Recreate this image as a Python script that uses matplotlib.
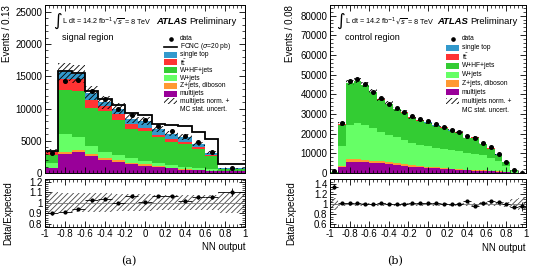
import numpy as np
import matplotlib
matplotlib.use("Agg")
import matplotlib.pyplot as plt
from matplotlib.patches import Rectangle
from matplotlib.lines import Line2D
from matplotlib.ticker import MultipleLocator, FixedLocator, FuncFormatter

plt.rcParams['font.family'] = ['Liberation Sans', 'DejaVu Sans']
plt.rcParams['axes.unicode_minus'] = False
plt.rcParams['hatch.linewidth'] = 0.6

# ---------------- data: signal region (a) ----------------
sig_edges = [-1.0, -0.8667, -0.7333, -0.6, -0.4667, -0.3333, -0.2, -0.0667,
             0.0667, 0.2, 0.3333, 0.4667, 0.6, 0.7333, 1.0]
sig_multijets = [720, 3000, 3250, 2650, 2000, 1700, 1380, 1150, 930, 700, 520, 400, 300, 250]
sig_zjets     = [80, 280, 280, 260, 250, 250, 220, 200, 180, 150, 120, 100, 80, 30]
sig_wjets     = [700, 2800, 2000, 1300, 1050, 800, 650, 550, 450, 380, 300, 250, 180, 60]
sig_whf       = [1300, 6760, 7250, 5940, 6330, 5430, 4610, 4670, 3980, 3640, 3510, 2980, 2000, 230]
sig_ttbar     = [400, 1800, 1750, 1130, 720, 1000, 680, 360, 360, 410, 310, 360, 280, 60]
sig_singletop = [190, 1070, 790, 1100, 610, 820, 900, 1170, 910, 820, 820, 430, 300, 80]
sig_fcnc      = [30, 100, 200, 400, 500, 600, 850, 900, 800, 1300, 1700, 1800, 2100, 750]
sig_data      = [3050, 14300, 14400, 12750, 11400, 10000, 8950, 8180, 7250, 6470, 5690, 4750, 3300, 780]
sig_unc       = [0.10, 0.09, 0.09, 0.09, 0.09, 0.08, 0.08, 0.08, 0.07, 0.07, 0.07, 0.07, 0.07, 0.10]

# ---------------- data: control region (b) ----------------
ctl_edges = list(np.round(np.linspace(-1, 1, 26), 4))
ctl_multijets = [150, 3000, 5800, 5800, 5400, 5200, 4900, 4500, 4100, 3700, 3300, 3000, 2600,
                 2300, 2000, 1800, 1500, 1350, 1200, 1050, 900, 700, 450, 150, 15]
ctl_zjets     = [30, 600, 1160, 1160, 1100, 1000, 950, 900, 850, 800, 700, 600, 550,
                 500, 450, 400, 380, 350, 300, 250, 200, 180, 120, 40, 5]
ctl_wjets     = [70, 10150, 17490, 18340, 17950, 16550, 15200, 13950, 13550, 12300, 11100, 10600, 10350,
                 10100, 9850, 9500, 9120, 8600, 8300, 7600, 6700, 5320, 3030, 710, 40]
ctl_whf       = [340, 10850, 21200, 21350, 20100, 18200, 16300, 15600, 13850, 13850, 13050, 12450, 11950,
                 10950, 10650, 9650, 9450, 7250, 8150, 5650, 4590, 3050, 1870, 550, 55]
ctl_ttbar     = [5, 100, 200, 200, 200, 200, 200, 200, 200, 200, 200, 200, 200,
                 200, 200, 200, 200, 200, 200, 200, 180, 150, 100, 30, 3]
ctl_singletop = [5, 100, 150, 150, 150, 150, 150, 150, 150, 150, 150, 150, 150,
                 150, 150, 150, 150, 150, 150, 150, 130, 100, 80, 20, 2]
ctl_data      = [810, 25300, 46900, 47900, 45300, 41300, 38100, 35300, 33000, 31000, 28800, 27500, 26300,
                 24700, 23300, 21700, 20800, 18800, 17600, 15050, 13350, 9900, 5700, 1410, 115]
ctl_unc       = [0.12, 0.04, 0.03, 0.03, 0.03, 0.03, 0.03, 0.03, 0.03, 0.03, 0.03, 0.03, 0.03,
                 0.03, 0.03, 0.03, 0.03, 0.03, 0.03, 0.035, 0.04, 0.04, 0.05, 0.10, 0.12]

xticks = [-1, -0.8, -0.6, -0.4, -0.2, 0, 0.2, 0.4, 0.6, 0.8, 1]

colors = {
    'multijets': '#990099',
    'zjets': '#ff9933',
    'wjets': '#66ff66',
    'whf': '#33cc33',
    'ttbar': '#ff3333',
    'singletop': '#3399cc',
}

W, H = 536, 280
fig = plt.figure(figsize=(W / 100, H / 100), dpi=100)


def add_ax(x0, x1, y0, y1):
    return fig.add_axes([x0 / W, 1 - y1 / H, (x1 - x0) / W, (y1 - y0) / H])


def ftext(x, y, s, **kw):
    kw.setdefault('va', 'center')
    fig.text(x / W, 1 - y / H, s, **kw)


def fbox(x, y, w, h, **kw):
    fig.add_artist(Rectangle((x / W, 1 - (y + h / 2) / H), w / W, h / H,
                             transform=fig.transFigure, **kw))


def style(ax, ymajor, yminor):
    ax.tick_params(direction='in', which='both', top=True, right=True, labelsize=7, pad=2)
    ax.tick_params(which='major', length=4, width=0.6)
    ax.tick_params(which='minor', length=2, width=0.5)
    ax.xaxis.set_major_locator(FixedLocator(xticks))
    ax.xaxis.set_minor_locator(MultipleLocator(0.04))
    if ymajor is not None:
        ax.yaxis.set_major_locator(MultipleLocator(ymajor))
        ax.yaxis.set_minor_locator(MultipleLocator(yminor))
    for s in ax.spines.values():
        s.set_linewidth(0.7)


def draw_panel(ax, rax, edges, comps, data, unc, fcnc=None, ymax=1.0, rlim=(0.8, 1.2),
               rticks=None, rminor=None):
    edges = np.array(edges, dtype=float)
    widths = np.diff(edges)
    centers = edges[:-1] + widths / 2
    bottom = np.zeros(len(widths))
    for vals, col in comps:
        vals = np.array(vals, dtype=float)
        ax.bar(edges[:-1], vals, width=widths, bottom=bottom, align='edge',
               color=col, linewidth=0)
        bottom = bottom + vals
    total = bottom
    unc = np.array(unc)
    err = total * unc
    ax.bar(edges[:-1], 2 * err, width=widths, bottom=total - err, align='edge',
           fill=False, hatch='//////', edgecolor='black', linewidth=0)
    if fcnc is not None:
        ax.stairs(total + np.array(fcnc), edges, color='black', linewidth=1.3, baseline=None)
    data = np.array(data, dtype=float)
    ax.errorbar(centers, data, yerr=np.sqrt(data), fmt='o', ms=2.6, color='black',
                elinewidth=0.7, capsize=0)
    ax.set_xlim(-1, 1)
    ax.set_ylim(0, ymax)
    ax.tick_params(labelbottom=False)

    # ratio
    ratio = data / total
    rerr = np.sqrt(data) / total
    rax.bar(edges[:-1], 2 * unc, width=widths, bottom=1 - unc, align='edge',
            fill=False, hatch='//////', edgecolor='#444444', linewidth=0)
    rax.axhline(1.0, color='#777777', linewidth=0.6)
    rax.errorbar(centers, ratio, yerr=rerr, xerr=widths / 2, fmt='o', ms=2.0, color='black',
                 elinewidth=0.6, capsize=0)
    rax.set_xlim(-1, 1)
    rax.set_ylim(*rlim)
    rax.yaxis.set_major_locator(FixedLocator(rticks))
    rax.yaxis.set_minor_locator(MultipleLocator(rminor))
    rax.xaxis.set_major_formatter(FuncFormatter(lambda v, p: '%g' % round(v, 2)))
    rax.yaxis.set_major_formatter(FuncFormatter(lambda v, p: '%g' % round(v, 2)))


# ---------- left: signal region ----------
axL = add_ax(45, 245, 5, 173)
rL = add_ax(45, 245, 179, 226.5)
style(axL, 5000, 1000)
style(rL, None, None)
draw_panel(axL, rL, sig_edges,
           [(sig_multijets, colors['multijets']), (sig_zjets, colors['zjets']),
            (sig_wjets, colors['wjets']), (sig_whf, colors['whf']),
            (sig_ttbar, colors['ttbar']), (sig_singletop, colors['singletop'])],
           sig_data, sig_unc, fcnc=sig_fcnc, ymax=26050, rlim=(0.775, 1.225),
           rticks=[0.8, 0.9, 1.0, 1.1, 1.2], rminor=0.02)

# ---------- right: control region ----------
axR = add_ax(330, 526, 5, 173)
rR = add_ax(330, 526, 179, 226.5)
style(axR, 10000, 2000)
style(rR, None, None)
draw_panel(axR, rR, ctl_edges,
           [(ctl_multijets, colors['multijets']), (ctl_zjets, colors['zjets']),
            (ctl_wjets, colors['wjets']), (ctl_whf, colors['whf']),
            (ctl_ttbar, colors['ttbar']), (ctl_singletop, colors['singletop'])],
           ctl_data, ctl_unc, fcnc=None, ymax=85400, rlim=(0.55, 1.5),
           rticks=[0.6, 0.8, 1.0, 1.2, 1.4], rminor=0.05)

# ---------- axis titles ----------
ftext(7, 5, 'Events / 0.13', rotation=90, va='top', ha='center', fontsize=7)
ftext(290, 5, 'Events / 0.08', rotation=90, va='top', ha='center', fontsize=7)
ftext(8, 213, 'Data/Expected', rotation=90, ha='center', fontsize=7)
ftext(291, 213, 'Data/Expected', rotation=90, ha='center', fontsize=7)
ftext(245, 247, 'NN output', ha='right', fontsize=7)
ftext(526, 248, 'NN output', ha='right', fontsize=7)
ftext(129, 261, '(a)', ha='center', fontsize=8, family='DejaVu Serif')
ftext(395, 261, '(b)', ha='center', fontsize=8, family='DejaVu Serif')

# ---------- ATLAS labels ----------
for x0, xa, region in [(53, 156, 'signal region'), (336, 437, 'control region')]:
    ftext(x0, 21, r'$\int$', fontsize=8.5, ha='left')
    ftext(x0 + 9, 21.5, 'L dt = 14.2 fb$^{-1}$', fontsize=5.2, ha='left')
    ftext(x0 + 59, 21.5, r'$\sqrt{s}$ = 8 TeV', fontsize=5.2, ha='left')
    ftext(xa, 21.5, 'ATLAS', fontsize=6.8, fontweight='bold', fontstyle='italic', ha='left')
    ftext(xa + 33, 21.5, 'Preliminary', fontsize=6.8, ha='left')
    ftext(x0 + 9, 37, region, fontsize=6.5, ha='left')

# ---------- legends ----------
def legend(bx, tx, y0, dy, entries):
    for i, (kind, label, col) in enumerate(entries):
        y = y0 + i * dy
        if kind == 'dot':
            fig.add_artist(Line2D([(bx + 6.5) / W], [1 - y / H], marker='o', ms=2.3,
                                  color='black', transform=fig.transFigure))
        elif kind == 'line':
            fig.add_artist(Line2D([bx / W, (bx + 13) / W], [1 - y / H, 1 - y / H],
                                  color='black', lw=1.2, transform=fig.transFigure))
        elif kind == 'box':
            fbox(bx, y, 13, 6, facecolor=col, edgecolor='none')
        elif kind == 'hatch':
            fbox(bx, y, 13, 6, facecolor='none', hatch='//////', edgecolor='black', linewidth=0)
        ftext(tx, y, label, fontsize=4.8, ha='left')


entries_common = [('box', 'single top', colors['singletop']),
                  ('box', r't$\bar{\mathrm{t}}$', colors['ttbar']),
                  ('box', 'W+HF+jets', colors['whf']),
                  ('box', 'W+jets', colors['wjets']),
                  ('box', 'Z+jets, diboson', colors['zjets']),
                  ('box', 'multijets', colors['multijets']),
                  ('hatch', 'multijets norm. +', None),
                  ('none', 'MC stat. uncert.', None)]
legend(164, 180, 39, 7.8, [('dot', 'data', None), ('line', r'FCNC ($\sigma$=20 pb)', None)]
       + entries_common)
legend(446, 462, 39, 8.9, [('dot', 'data', None)] + entries_common)

fig.savefig('out.png', dpi=100)
